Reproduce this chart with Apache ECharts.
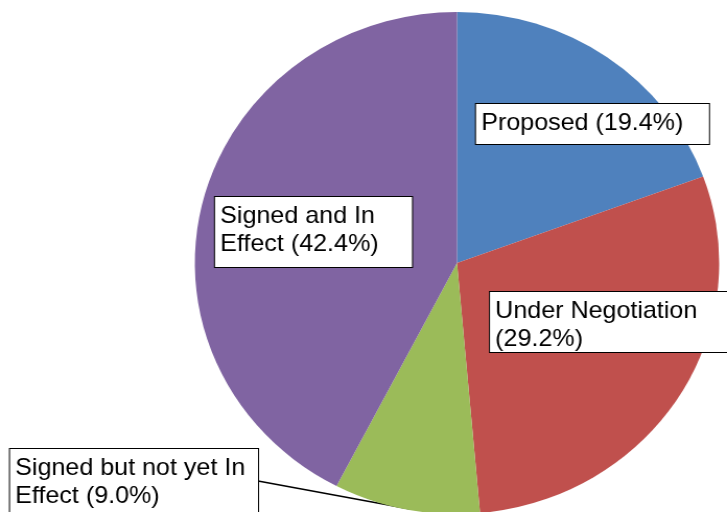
<!DOCTYPE html>
<html>
<head>
<meta charset="utf-8">
<script src="https://cdn.jsdelivr.net/npm/echarts@6/dist/echarts.min.js"></script>
<style>
  html, body { margin: 0; padding: 0; background: #fff; overflow: hidden; }
  /* The chart is drawn slightly narrower and widened to the page, giving the pie its oval look */
  #chart { width: 696px; height: 512px; transform: scaleX(1.04454); transform-origin: 0 0; }
</style>
</head>
<body>
<div id="chart"></div>
<script>
// Agreement status shares (percent)
const categories = ['Proposed', 'Under Negotiation', 'Signed but not yet In Effect', 'Signed and In Effect'];
const shares = [19.4, 29.2, 9.0, 42.4];
const colors = ['#4F81BD', '#C0504D', '#9BBB59', '#8064A2'];

// Horizontal stretch applied to the chart element
const SX = 727 / 696;

// Label boxes on the page: top-left corner, outer width and height
const labelBoxes = [
  { x: 476, y: 104, w: 233, h: 40 },
  { x: 490, y: 292, w: 252, h: 60 },
  { x: 10,  y: 449, w: 248, h: 68 },
  { x: 215, y: 197, w: 197, h: 70 }
];
// Leader line for the small slice, page coordinates
const leader = [[258, 481], [334, 495], [410, 509]];
const PAD = 5;

const chart = echarts.init(document.getElementById('chart'), null, { renderer: 'canvas' });

chart.setOption({
  animation: false,
  backgroundColor: '#ffffff',
  series: [{
    type: 'pie',
    center: [457 / SX, 263],
    radius: 251,
    startAngle: 90,
    clockwise: true,
    silent: true,
    avoidLabelOverlap: false,
    itemStyle: { borderWidth: 0 },
    emphasis: { disabled: true },
    label: {
      show: true,
      position: 'outside',
      fontFamily: '"Liberation Sans", Arial, sans-serif',
      fontSize: 24,
      lineHeight: 28,
      color: '#000',
      backgroundColor: '#ffffff',
      borderColor: '#000000',
      borderWidth: 1,
      padding: [PAD, PAD],
      align: 'left',
      verticalAlign: 'top',
      overflow: 'break',
      formatter: p => p.name + ' (' + p.value.toFixed(1) + '%)'
    },
    labelLine: {
      show: false,
      showAbove: true,
      lineStyle: { color: '#000', width: 1.5 }
    },
    data: categories.map((name, i) => ({
      name,
      value: shares[i],
      itemStyle: { color: colors[i] },
      label: {
        width: labelBoxes[i].w / SX - 2 * PAD,
        height: labelBoxes[i].h - 2 * PAD
      },
      labelLine: { show: i === 2, showAbove: true }
    })),
    labelLayout: params => {
      const b = labelBoxes[params.dataIndex];
      const out = { x: b.x / SX, y: b.y, align: 'left', verticalAlign: 'top', hideOverlap: false };
      if (params.dataIndex === 2) {
        out.labelLinePoints = leader.map(p => [p[0] / SX, p[1]]);
      }
      return out;
    }
  }]
});
</script>
</body>
</html>
